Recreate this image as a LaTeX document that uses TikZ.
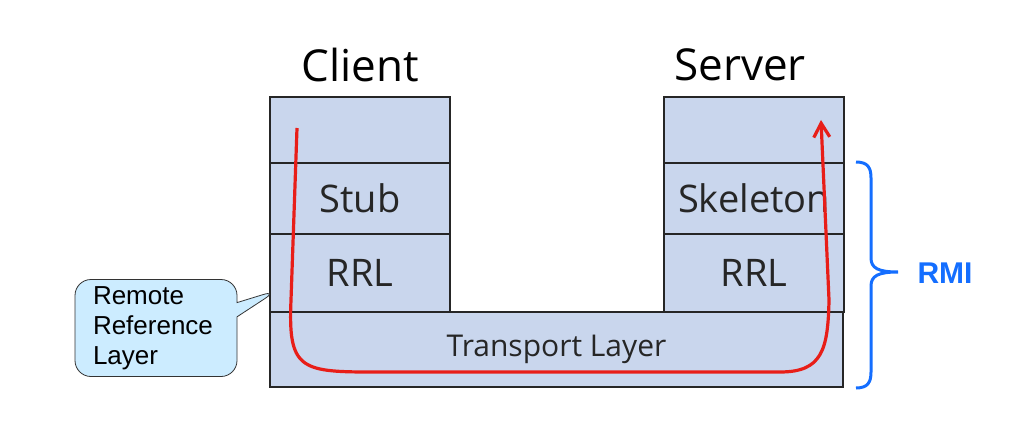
\documentclass[tikz,border=0pt]{standalone}
\usepackage{fontspec}
\setmainfont{Open Sans}
\newfontfamily\notefont{Liberation Sans}
\usetikzlibrary{shapes.callouts,arrows.meta}
\definecolor{layerfill}{RGB}{201,214,237}
\definecolor{notefill}{RGB}{204,236,255}
\definecolor{flowred}{RGB}{232,30,24}
\definecolor{rmiblue}{RGB}{20,110,255}

\tikzstyle{layer} = [draw=black!85, line width=1.3pt, fill=layerfill, inner sep=0pt, minimum width=90pt, text=black!85, font=\fontsize{19}{19}\selectfont]
\tikzstyle{side} = [font=\fontsize{22}{22}\selectfont]
\tikzstyle{note} = [rectangle callout, rounded corners=8pt, draw=black!80, fill=notefill, align=left, inner xsep=9pt, text width=63pt, minimum height=48.5pt, font=\notefont\fontsize{13}{15}\selectfont]

\begin{document}
\begin{tikzpicture}[x=0.5pt,y=-0.5pt]
  \useasboundingbox (0,0) rectangle (1011,444);
  % client side
  \node[side] (client) at (360,65) {Client};
  \node[layer, minimum height=33pt] (ctop) at (360,130) {};
  \node[layer, minimum height=35.5pt] (stub) at (360,198.5) {Stub};
  \node[layer, minimum height=39pt] (crrl) at (360,273) {RRL};
  % server side
  \node[side] (server) at (740,65) {Server};
  \node[layer, minimum height=33pt] (stop) at (754,130) {};
  \node[layer, minimum height=35.5pt] (skel) at (754,198.5) {Skeleton};
  \node[layer, minimum height=39pt] (srrl) at (754,273) {RRL};
  % transport
  \node[layer, minimum width=286.5pt, minimum height=37.5pt, font=\fontsize{15}{15}\selectfont] (trans) at (556.5,349.5) {Transport Layer};
  % call path
  \coordinate (fstart) at (297,128);
  \coordinate (fend) at (821,120);
  \draw[flowred, line width=1.6pt, -{Straight Barb[length=7pt,width=8pt]}] (fstart) -- (291,300) .. controls (288,368) and (300,372) .. (370,372) -- (780,372) .. controls (822,372) and (828,350) .. (829,300) -- (fend);
  % callout
  \coordinate (rrlpt) at (278,290);
  \node[note, callout absolute pointer={(rrlpt)}] (rrlnote) at (156,328) {Remote\\Reference\\Layer};
  % brace
  \draw[rmiblue, line width=1.5pt] (856,162) .. controls (868,162) and (871,168) .. (871,178) -- (871,258) .. controls (871,268) and (878,272) .. (898,272) .. controls (878,272) and (871,276) .. (871,286) -- (871,372) .. controls (871,382) and (868,388) .. (856,388);
  \node[font=\notefont\bfseries\fontsize{15}{15}\selectfont, text=rmiblue] (rmi) at (945,273) {RMI};
\end{tikzpicture}
\end{document}
